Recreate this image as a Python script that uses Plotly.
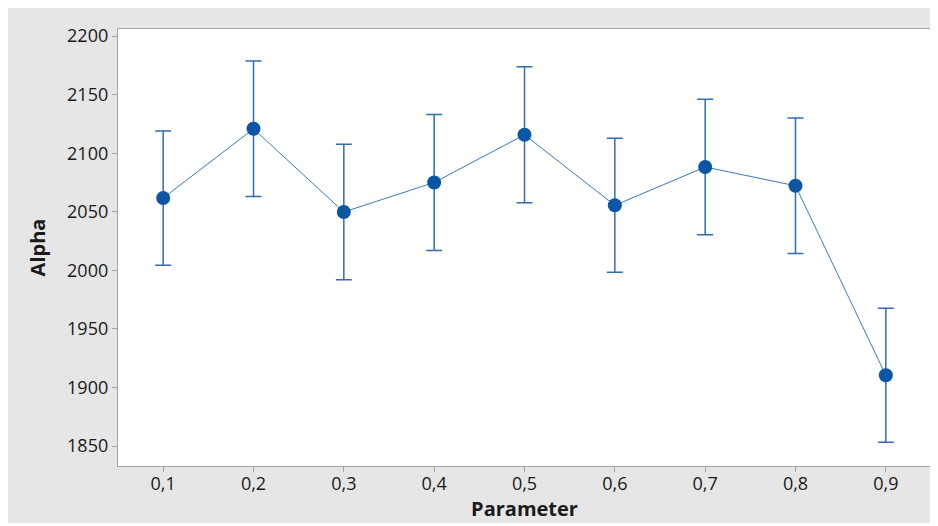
import plotly.graph_objects as go

categories = ["0,1", "0,2", "0,3", "0,4", "0,5", "0,6", "0,7", "0,8", "0,9"]
alpha_mean = [2061.7, 2120.8, 2049.8, 2075.0, 2115.7, 2055.5, 2088.2, 2072.2, 1910.4]
alpha_err = [57.3, 57.8, 57.8, 58.0, 58.0, 57.2, 57.8, 57.8, 57.2]
y_ticks = [1850, 1900, 1950, 2000, 2050, 2100, 2150, 2200]

fig = go.Figure()
fig.add_trace(go.Scatter(
    x=categories, y=alpha_mean,
    mode="lines+markers",
    line=dict(color="#3a78c0", width=1),
    marker=dict(color="#0b55a5", size=14),
    error_y=dict(type="data", array=alpha_err, visible=True,
                 color="#2f6db5", thickness=1.5, width=8),
    showlegend=False,
))

# page body adds an 8px offset, so the figure is sized to the remaining window
W, H = 930, 515
L, R, T, B = 110, 7, 21, 57

font_family = "Open Sans, Noto Sans, sans-serif"
fig.update_layout(
    width=W, height=H,
    margin=dict(l=L, r=R, t=T, b=B),
    paper_bgcolor="#e6e6e6",
    plot_bgcolor="white",
    font=dict(family=font_family, color="#1a1a1a", size=18),
    xaxis=dict(
        type="category", range=[-0.5, 8.5],
        showline=True, linecolor="#a3a3a3", linewidth=1.3, mirror=True,
        ticks="outside", ticklen=5, tickcolor="#a3a3a3", tickwidth=1,
        ticklabelstandoff=-4,
        showgrid=False, zeroline=False,
        tickfont=dict(size=18),
        title=dict(text="<b>Parameter</b>", font=dict(size=20), standoff=8),
    ),
    yaxis=dict(
        range=[1833, 2206],
        tickvals=y_ticks,
        showline=True, linecolor="#a3a3a3", linewidth=1.3, mirror=True,
        ticks="outside", ticklen=5, tickcolor="#a3a3a3", tickwidth=1,
        showgrid=False, zeroline=False,
        tickfont=dict(size=18),
        title=dict(text="<b>Alpha</b>", font=dict(size=20), standoff=16),
    ),
)

fig.write_html("out.html")
